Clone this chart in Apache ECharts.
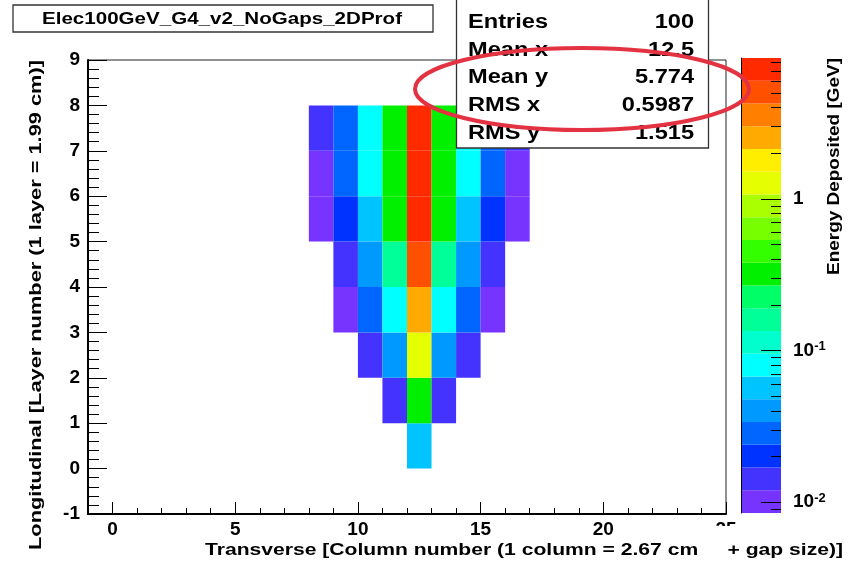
<!DOCTYPE html>
<html><head><meta charset="utf-8">
<script src="https://cdn.jsdelivr.net/npm/echarts@6/dist/echarts.min.js"></script>
<style>html,body{margin:0;padding:0;background:#fff}#c{width:859px;height:564px}</style>
</head><body><div id="c"></div>
<script>
// ---------- data ----------
const histTitle = 'Elec100GeV_G4_v2_NoGaps_2DProf';
const xTitle = 'Transverse [Column number (1 column = 2.67 cm     + gap size)]';
const yTitle = 'Longitudinal [Layer number (1 layer = 1.99 cm)]';
const zTitle = 'Energy Deposited [GeV]';
const statsLabels = ['Entries', 'Mean x', 'Mean y', 'RMS x', 'RMS y'];
const statsValues = ['100', '12.5', '5.774', '0.5987', '1.515'];

const columns = [8, 9, 10, 11, 12, 13, 14, 15, 16];
const layer0 = [null, null, null, null, 0.057, null, null, null, null];
const layer1 = [null, null, null, 0.014, 0.31, 0.014, null, null, null];
const layer2 = [null, null, 0.014, 0.041, 1.25, 0.041, 0.014, null, null];
const layer3 = [null, 0.010, 0.028, 0.08, 2.5, 0.08, 0.028, 0.010, null];
const layer4 = [null, 0.014, 0.041, 0.16, 5.1, 0.16, 0.041, 0.014, null];
const layer5 = [0.0095, 0.021, 0.058, 0.30, 7.4, 0.30, 0.058, 0.021, 0.0095];
const layer6 = [0.010, 0.029, 0.082, 0.33, 8.2, 0.33, 0.082, 0.029, 0.010];
const layer7 = [0.014, 0.028, 0.08, 0.32, 7.9, 0.32, 0.08, 0.028, 0.014];
const layers = [layer0, layer1, layer2, layer3, layer4, layer5, layer6, layer7];

const xMajorTicks = [0, 5, 10, 15, 20, 25];
const zLabelTicks = [0.01, 0.1, 1];
const zMinorTicks = [0.009, 0.02, 0.03, 0.04, 0.05, 0.06, 0.07, 0.08, 0.09,
  0.2, 0.3, 0.4, 0.5, 0.6, 0.7, 0.8, 0.9, 2, 3, 4, 5, 6, 7, 8];
const zMin = 0.00847, zMax = 8.47;
const palette = ['#7733ff', '#4433ff', '#0033ff', '#0066ff', '#0099ff', '#00c4ff', '#00ffff',
  '#00ffcc', '#00ff99', '#00ff66', '#00f000', '#33ff00', '#77ff00', '#aaff00', '#e6ff00',
  '#ffee00', '#ffaa00', '#ff8000', '#ff5000', '#ff2a00'];

// ---------- build ----------
const FONT = 'Liberation Sans';
const nBands = palette.length;
const edges = [];
for (let k = 0; k <= nBands; k++) edges.push(zMin * Math.pow(zMax / zMin, k / nBands));
const pieces = palette.map((c, k) => k === nBands - 1
  ? { gte: edges[k], lte: edges[k + 1] * 10, color: c }
  : { gte: edges[k], lt: edges[k + 1], color: c });
const cells = [];
layers.forEach((row, li) => row.forEach((v, ci) => { if (v != null) cells.push([columns[ci], li, v]); }));
const bands = palette.map((c, k) => [0, edges[k], edges[k + 1], k]);
const zTicks = zLabelTicks.map(v => [1, v, 1]).concat(zMinorTicks.map(v => [1, v, 0]));

const ctx = document.createElement('canvas').getContext('2d');
function sx(text, size, target) { ctx.font = 'bold ' + size + 'px "' + FONT + '"'; return target / ctx.measureText(text).width; }

const statScale = sx('Entries', 20, 80);
const rowY = [22, 50, 77, 105, 133];
const graphics = [
  { type: 'rect', z: 50, shape: { x: 13, y: 5, width: 420, height: 27 }, style: { fill: '#fff', stroke: '#333', lineWidth: 1.3 } },
  { type: 'text', z: 51, x: 222, y: 19, scaleX: sx(histTitle, 17, 360), style: { text: histTitle, font: 'bold 17px "' + FONT + '"', fill: '#000', align: 'center', verticalAlign: 'middle' } },
  { type: 'rect', z: 50, shape: { x: 456.5, y: -1, width: 252, height: 149 }, style: { fill: '#fff', stroke: '#333', lineWidth: 1.3 } },
  { type: 'text', z: 51, x: 205, y: 550, scaleX: sx(xTitle, 17, 638), style: { text: xTitle, font: 'bold 17px "' + FONT + '"', fill: '#000', align: 'left', verticalAlign: 'middle' } },
  { type: 'text', z: 51, x: 36, y: 60, rotation: Math.PI / 2, scaleX: sx(yTitle, 17, 490), style: { text: yTitle, font: 'bold 17px "' + FONT + '"', fill: '#000', align: 'right', verticalAlign: 'middle' } },
  { type: 'text', z: 51, x: 834, y: 58, rotation: Math.PI / 2, scaleX: sx(zTitle, 17, 217), style: { text: zTitle, font: 'bold 17px "' + FONT + '"', fill: '#000', align: 'right', verticalAlign: 'middle' } },
  { type: 'rect', z: 52, shape: { x: 712, y: 526, width: 26, height: 13 }, style: { fill: '#fff' } },
  { type: 'rect', z: 52, shape: { x: 704, y: 539, width: 23, height: 25 }, style: { fill: '#fff' } },
  { type: 'ellipse', z: 60, shape: { cx: 582, cy: 89, rx: 167, ry: 41 }, style: { fill: null, stroke: '#e33241', lineWidth: 4 } }
];
statsLabels.forEach((t, i) => {
  graphics.push({ type: 'text', z: 51, x: 468, y: rowY[i], scaleX: statScale, style: { text: t, font: 'bold 20px "' + FONT + '"', fill: '#000', align: 'left', verticalAlign: 'middle' } });
  graphics.push({ type: 'text', z: 51, x: 694, y: rowY[i], scaleX: statScale, style: { text: statsValues[i], font: 'bold 20px "' + FONT + '"', fill: '#000', align: 'right', verticalAlign: 'middle' } });
});

const lab = { fontFamily: FONT, fontWeight: 'bold', fontSize: 19, color: '#000' };
const chart = echarts.init(document.getElementById('c'));
chart.setOption({
  animation: false,
  backgroundColor: '#fff',
  grid: [
    { left: 88, right: 133, top: 60, bottom: 50, show: true, borderColor: '#222', borderWidth: 1, backgroundColor: 'transparent', outerBoundsMode: 'none' },
    { left: 741, width: 40, top: 58, bottom: 51, outerBoundsMode: 'none' }
  ],
  xAxis: [
    { gridIndex: 0, type: 'value', min: -1, max: 25, interval: 1, position: 'bottom',
      axisLine: { show: true, onZero: false, lineStyle: { color: '#000', width: 2 } },
      axisTick: { show: true, inside: true, length: 6, lineStyle: { color: '#000', width: 1 } },
      axisLabel: { show: false }, splitLine: { show: false } },
    { gridIndex: 0, type: 'value', min: -1, max: 25, position: 'bottom',
      axisLine: { show: false, onZero: false },
      axisTick: { show: true, inside: true, length: 12, customValues: xMajorTicks, lineStyle: { color: '#000', width: 1 } },
      axisLabel: Object.assign({ show: true, margin: 6, customValues: xMajorTicks }, lab),
      splitLine: { show: false } },
    { gridIndex: 1, type: 'value', min: 0, max: 1, show: false }
  ],
  yAxis: [
    { gridIndex: 0, type: 'value', min: -1, max: 9, interval: 1,
      axisLine: { show: true, onZero: false, lineStyle: { color: '#000', width: 2 } },
      axisTick: { show: true, inside: true, length: 19, lineStyle: { color: '#000', width: 1 } },
      minorTick: { show: true, splitNumber: 5, length: 11, lineStyle: { color: '#000', width: 1 } },
      axisLabel: Object.assign({ margin: 8 }, lab), splitLine: { show: false } },
    { gridIndex: 1, type: 'log', logBase: 10, min: zMin, max: zMax, position: 'right', z: 10,
      axisLine: { show: true, lineStyle: { color: '#000', width: 1 } },
      axisTick: { show: false },
      axisLabel: { show: true, margin: 12, customValues: zLabelTicks,
        formatter: function (v) { if (Math.abs(v - 1) < 1e-9) return '{b|1}'; return '{b|10}{s|' + Math.round(Math.log10(v)) + '}'; },
        rich: { b: Object.assign({}, lab), s: { fontFamily: FONT, fontWeight: 'bold', fontSize: 13, color: '#000', verticalAlign: 'top', padding: [0, 0, 8, 0] } } },
      splitLine: { show: false } }
  ],
  visualMap: { type: 'piecewise', show: false, dimension: 2, seriesIndex: 0, pieces: pieces },
  series: [
    { type: 'custom', xAxisIndex: 0, yAxisIndex: 0, data: cells, encode: { x: 0, y: 1 },
      renderItem: function (params, api) {
        const x = api.value(0), y = api.value(1);
        const p0 = api.coord([x, y + 1]), p1 = api.coord([x + 1, y]);
        return { type: 'rect', shape: { x: p0[0], y: p0[1], width: p1[0] - p0[0], height: p1[1] - p0[1] },
          style: { fill: api.visual('color'), stroke: null } };
      } },
    { type: 'custom', xAxisIndex: 2, yAxisIndex: 1, data: bands, encode: { x: 0, y: [1, 2] }, z: 2,
      renderItem: function (params, api) {
        const p0 = api.coord([0, api.value(2)]), p1 = api.coord([1, api.value(1)]);
        return { type: 'rect', shape: { x: p0[0], y: p0[1], width: p1[0] - p0[0], height: p1[1] - p0[1] },
          style: { fill: palette[api.value(3)], stroke: null } };
      } },
    { type: 'custom', xAxisIndex: 2, yAxisIndex: 1, data: zTicks, encode: { x: 0, y: 1 }, z: 5, clip: false,
      renderItem: function (params, api) {
        const p = api.coord([1, api.value(1)]);
        const len = api.value(2) ? 20 : 10;
        const y = Math.round(p[1]) + 0.5;
        return { type: 'line', shape: { x1: p[0] - len, y1: y, x2: p[0], y2: y },
          style: { stroke: '#000', lineWidth: 1 } };
      } }
  ],
  graphic: graphics
});
</script></body></html>
